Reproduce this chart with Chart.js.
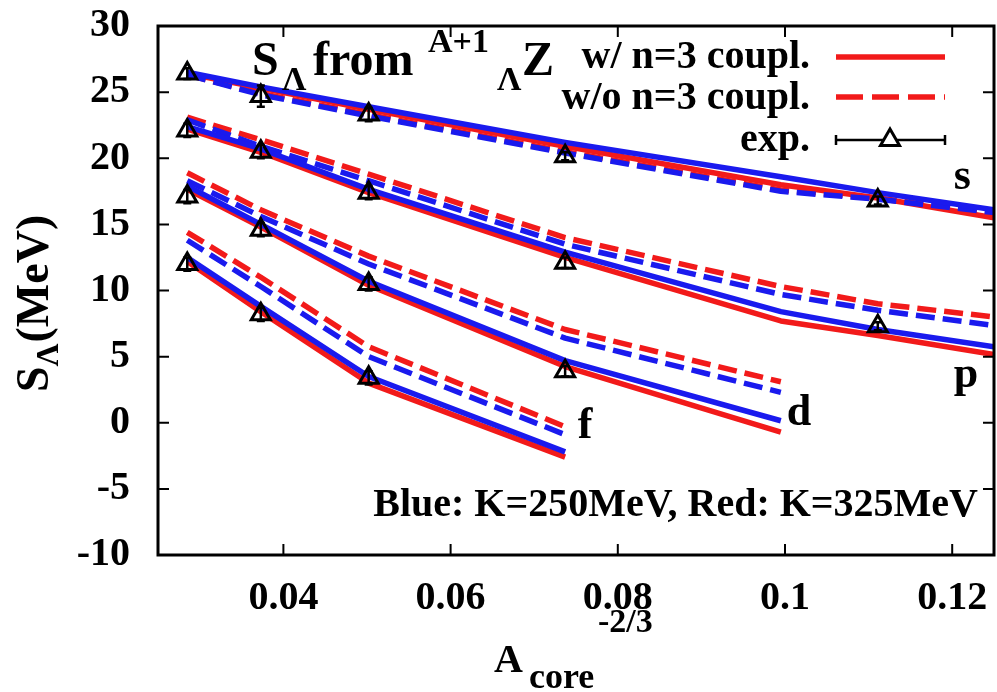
<!DOCTYPE html>
<html>
<head>
<meta charset="utf-8">
<script src="https://cdn.jsdelivr.net/npm/chart.js@4.4.1/dist/chart.umd.min.js"></script>
<style>
  html, body { margin: 0; padding: 0; background: #ffffff; overflow: hidden; }
  #wrap { width: 997px; height: 692px; }
  canvas { display: block; }
</style>
</head>
<body>
<div id="wrap"><canvas id="c" width="997" height="692"></canvas></div>
<script>
// Lambda separation energies vs A_core^(-2/3)
const xTheory = [0.0285, 0.0373, 0.0502, 0.0737, 0.0995, 0.1111, 0.125];
const xExp    = [0.0285, 0.0373, 0.0502, 0.0737, 0.1111];

// s shell
const sRedWith    = [26.4, 25.3, 23.7, 20.9, 18.0, 17.0, 15.5];
const sRedWithout = [26.3, 24.9, 23.3, 20.5, 17.6, 17.0, 15.8];
const sBlueWith    = [26.5, 25.4, 23.9, 21.2, 18.6, 17.4, 16.1];
const sBlueWithout = [26.3, 24.8, 23.2, 20.4, 17.5, 16.9, 15.9];
// p shell
const pRedWith    = [22.2, 20.45, 17.4, 12.5, 7.7, 6.6, 5.15];
const pRedWithout = [23.1, 21.4, 18.8, 14.0, 10.3, 9.0, 8.0];
const pBlueWith    = [22.4, 20.7, 17.65, 12.9, 8.4, 7.05, 5.75];
const pBlueWithout = [22.9, 20.9, 18.3, 13.5, 9.7, 8.5, 7.35];
// d shell
const dRedWith    = [17.65, 14.8, 10.4, 4.25, -0.7];
const dRedWithout = [18.9, 16.1, 12.6, 7.05, 3.1];
const dBlueWith    = [17.9, 15.0, 10.7, 4.7, 0.15];
const dBlueWithout = [18.3, 15.6, 12.0, 6.4, 2.3];
// f shell
const fRedWith    = [12.2, 8.4, 3.0, -2.6];
const fRedWithout = [14.4, 11.0, 5.75, -0.3];
const fBlueWith    = [12.5, 8.8, 3.5, -2.2];
const fBlueWithout = [13.8, 10.3, 5.0, -0.9];

// experimental values and errors
const sExp = [26.4, 24.7, 23.3, 20.15, 16.8];
const pExp = [22.1, 20.5, 17.4, 12.1, 7.3];
const dExp = [17.1, 14.6, 10.5, 3.9];
const fExp = [12.0, 8.2, 3.4];
const sErr = [0.4, 0.8, 0.5, 0.3, 0.3];
const pErr = [0.5, 0.5, 0.5, 0.4, 0.3];
const dErr = [0.5, 0.5, 0.5, 0.4];
const fErr = [0.5, 0.5, 0.5];

// axis ticks
const xTicks = [0.04, 0.06, 0.08, 0.1, 0.12];
const xTickLabels = ['0.04', '0.06', '0.08', '0.1', '0.12'];
const yTicks = [-10, -5, 0, 5, 10, 15, 20, 25, 30];
const yTickLabels = ['-10', '-5', '0', '5', '10', '15', '20', '25', '30'];

const RED = '#f21a1a';
const BLUE = '#1a1aee';
const SERIF = '"Liberation Serif", "DejaVu Serif", serif';
const DASH = [19, 8];

function pts(xs, ys) { return ys.map((y, i) => ({ x: xs[i], y: y })); }

function theory(ys, color, dashed, order) {
  return {
    data: pts(xTheory, ys),
    borderColor: color,
    backgroundColor: color,
    borderWidth: 5.5,
    borderDash: dashed ? DASH : [],
    borderCapStyle: 'butt',
    borderJoinStyle: 'round',
    pointRadius: 0,
    tension: 0,
    fill: false,
    order: order
  };
}

function expSet(ys, errs) {
  return {
    data: pts(xExp, ys),
    errs: errs,
    showLine: false,
    pointStyle: 'triangle',
    pointRadius: 11,
    pointBorderWidth: 3,
    pointBorderColor: '#000000',
    pointBackgroundColor: 'rgba(0,0,0,0)',
    order: 0
  };
}

const datasets = [
  theory(sRedWith, RED, false, 3), theory(sRedWithout, RED, true, 3),
  theory(pRedWith, RED, false, 3), theory(pRedWithout, RED, true, 3),
  theory(dRedWith, RED, false, 3), theory(dRedWithout, RED, true, 3),
  theory(fRedWith, RED, false, 3), theory(fRedWithout, RED, true, 3),
  theory(sBlueWith, BLUE, false, 2), theory(sBlueWithout, BLUE, true, 2),
  theory(pBlueWith, BLUE, false, 2), theory(pBlueWithout, BLUE, true, 2),
  theory(dBlueWith, BLUE, false, 2), theory(dBlueWithout, BLUE, true, 2),
  theory(fBlueWith, BLUE, false, 2), theory(fBlueWithout, BLUE, true, 2),
  expSet(sExp, sErr), expSet(pExp, pErr), expSet(dExp, dErr), expSet(fExp, fErr)
];

// shell letters placed in data coordinates
const shellLabels = [
  { text: 's', x: 0.1202, y: 17.65 },
  { text: 'p', x: 0.1202, y: 2.73 },
  { text: 'd', x: 0.1002, y: -0.15 },
  { text: 'f', x: 0.0752, y: -1.14 }
];

// vertical error bars on the measured points
const errorBars = {
  id: 'errorBars',
  afterDatasetsDraw(chart) {
    const ctx = chart.ctx, xs = chart.scales.x, ys = chart.scales.y;
    ctx.save();
    ctx.strokeStyle = '#000';
    ctx.lineWidth = 2.5;
    chart.data.datasets.forEach(ds => {
      if (!ds.errs) return;
      ds.data.forEach((p, i) => {
        const px = xs.getPixelForValue(p.x);
        const y1 = ys.getPixelForValue(p.y + ds.errs[i]);
        const y2 = ys.getPixelForValue(p.y - ds.errs[i]);
        ctx.beginPath();
        ctx.moveTo(px, y1); ctx.lineTo(px, y2);
        ctx.moveTo(px - 4, y1); ctx.lineTo(px + 4, y1);
        ctx.moveTo(px - 4, y2); ctx.lineTo(px + 4, y2);
        ctx.stroke();
      });
    });
    ctx.restore();
  }
};

// frame with inward ticks on all four sides, plus the text decorations
const decorations = {
  id: 'decorations',
  afterDraw(chart) {
    const ctx = chart.ctx, a = chart.chartArea, xs = chart.scales.x, ys = chart.scales.y;
    ctx.save();
    ctx.strokeStyle = '#000';
    ctx.lineWidth = 2;
    const tl = 11;
    ctx.beginPath();
    xTicks.forEach(v => {
      const px = xs.getPixelForValue(v);
      ctx.moveTo(px, a.bottom); ctx.lineTo(px, a.bottom - tl);
      ctx.moveTo(px, a.top); ctx.lineTo(px, a.top + tl);
    });
    yTicks.forEach(v => {
      const py = ys.getPixelForValue(v);
      ctx.moveTo(a.left, py); ctx.lineTo(a.left + tl, py);
      ctx.moveTo(a.right, py); ctx.lineTo(a.right - tl, py);
    });
    ctx.stroke();
    ctx.lineWidth = 3;
    ctx.strokeRect(a.left, a.top, a.right - a.left, a.bottom - a.top);

    ctx.fillStyle = '#000';
    ctx.textBaseline = 'alphabetic';
    const f = (s) => '700 ' + s + 'px ' + SERIF;

    // title
    ctx.textAlign = 'left';
    ctx.font = f(48); ctx.fillText('S', 252, 75);
    ctx.font = f(34); ctx.fillText('\u039B', 282, 90);
    ctx.font = f(48); ctx.fillText('from', 313, 75);
    ctx.font = f(34); ctx.fillText('A+1', 428, 52);
    ctx.font = f(34); ctx.fillText('\u039B', 497, 90);
    ctx.font = f(48); ctx.fillText('Z', 522, 75);

    // legend
    ctx.font = f(40);
    ctx.textAlign = 'right';
    ctx.fillText('w/ n=3 coupl.', 810, 68);
    ctx.fillText('w/o n=3 coupl.', 810, 109);
    ctx.fillText('exp.', 810, 151);
    ctx.strokeStyle = RED;
    ctx.lineWidth = 5.5;
    ctx.lineCap = 'butt';
    ctx.beginPath(); ctx.moveTo(836, 57); ctx.lineTo(945, 57); ctx.stroke();
    ctx.setLineDash([27, 9]);
    ctx.beginPath(); ctx.moveTo(836, 97); ctx.lineTo(945, 97); ctx.stroke();
    ctx.setLineDash([]);
    ctx.strokeStyle = '#000';
    ctx.lineWidth = 2.5;
    ctx.beginPath();
    ctx.moveTo(836, 140); ctx.lineTo(945, 140);
    ctx.moveTo(836, 135); ctx.lineTo(836, 145);
    ctx.moveTo(945, 135); ctx.lineTo(945, 145);
    ctx.stroke();
    ctx.lineWidth = 3;
    const r = 11, cx = 890, cy = 140;
    ctx.beginPath();
    ctx.moveTo(cx, cy - r);
    ctx.lineTo(cx + r * Math.sin(2 * Math.PI / 3), cy - r * Math.cos(2 * Math.PI / 3));
    ctx.lineTo(cx + r * Math.sin(4 * Math.PI / 3), cy - r * Math.cos(4 * Math.PI / 3));
    ctx.closePath();
    ctx.fillStyle = '#fff'; ctx.fill();
    ctx.stroke();

    // shell letters
    ctx.fillStyle = '#000';
    ctx.textAlign = 'left';
    ctx.font = f(44);
    shellLabels.forEach(l => {
      ctx.fillText(l.text, xs.getPixelForValue(l.x), ys.getPixelForValue(l.y));
    });

    // incompressibility note
    ctx.font = f(40);
    ctx.textAlign = 'right';
    ctx.fillText('Blue: K=250MeV, Red: K=325MeV', 978, 516);

    // x axis title
    ctx.textAlign = 'left';
    ctx.font = f(40); ctx.fillText('A', 494, 672);
    ctx.font = f(36); ctx.fillText('core', 529, 688);
    ctx.font = f(34); ctx.fillText('-2/3', 598, 632);

    // y axis title (rotated)
    ctx.translate(48, 392);
    ctx.rotate(-Math.PI / 2);
    ctx.font = f(46);
    ctx.fillText('S', 0, 0);
    let w = ctx.measureText('S').width;
    ctx.font = f(32);
    ctx.fillText('\u039B', w, 10);
    w += ctx.measureText('\u039B').width;
    ctx.font = f(46);
    ctx.fillText('(MeV)', w + 1, 0);
    ctx.restore();
  }
};

function noOverflow(s) {
  s.paddingLeft = 0; s.paddingRight = 0; s.paddingTop = 0; s.paddingBottom = 0;
}

new Chart(document.getElementById('c'), {
  type: 'line',
  data: { datasets: datasets },
  plugins: [errorBars, decorations],
  options: {
    responsive: false,
    animation: false,
    devicePixelRatio: 1,
    layout: { autoPadding: false, padding: { top: 26, right: 3, left: 0, bottom: 0 } },
    plugins: { legend: { display: false }, tooltip: { enabled: false } },
    scales: {
      x: {
        type: 'linear',
        min: 0.025, max: 0.125,
        grid: { display: false, drawTicks: false },
        border: { display: false },
        afterBuildTicks: s => { s.ticks = xTicks.map(v => ({ value: v })); },
        afterFit: s => { s.height = 137; noOverflow(s); },
        ticks: {
          color: '#000',
          padding: 20,
          maxRotation: 0,
          autoSkip: false,
          font: { family: SERIF, size: 40, weight: '700' },
          callback: v => xTickLabels[xTicks.indexOf(v)]
        }
      },
      y: {
        type: 'linear',
        min: -10, max: 30,
        grid: { display: false, drawTicks: false },
        border: { display: false },
        afterBuildTicks: s => { s.ticks = yTicks.map(v => ({ value: v })); },
        afterFit: s => { s.width = 158; noOverflow(s); },
        ticks: {
          color: '#000',
          padding: 28,
          autoSkip: false,
          font: { family: SERIF, size: 40, weight: '700' },
          callback: v => yTickLabels[yTicks.indexOf(v)]
        }
      }
    }
  }
});
</script>
</body>
</html>
